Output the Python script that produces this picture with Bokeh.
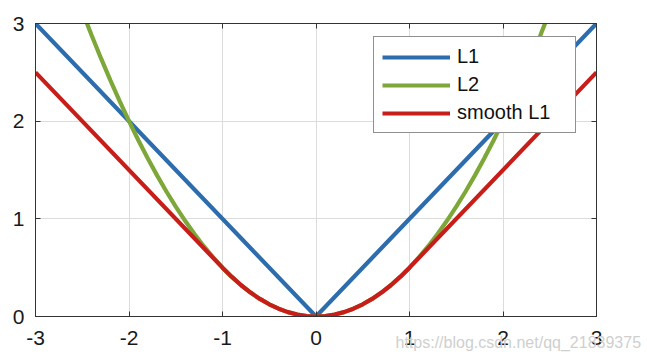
from bokeh.plotting import figure
from bokeh.models import Range1d, LinearAxis, FixedTicker, Legend, LegendItem, Label
from bokeh.embed import file_html
from bokeh.resources import INLINE

# Data
l1_x = [-3, 0, 3]
l1_y = [3, 0, 3]

l2_x = [-2.5, -2.4, -2.3, -2.2, -2.1, -2.0, -1.9, -1.8, -1.7, -1.6, -1.5, -1.4, -1.3,
        -1.2, -1.1, -1.0, -0.9, -0.8, -0.7, -0.6, -0.5, -0.4, -0.3, -0.2, -0.1, 0.0,
        0.1, 0.2, 0.3, 0.4, 0.5, 0.6, 0.7, 0.8, 0.9, 1.0, 1.1, 1.2, 1.3, 1.4, 1.5,
        1.6, 1.7, 1.8, 1.9, 2.0, 2.1, 2.2, 2.3, 2.4, 2.5]
l2_y = [3.125, 2.88, 2.645, 2.42, 2.205, 2.0, 1.805, 1.62, 1.445, 1.28, 1.125, 0.98, 0.845,
        0.72, 0.605, 0.5, 0.405, 0.32, 0.245, 0.18, 0.125, 0.08, 0.045, 0.02, 0.005, 0.0,
        0.005, 0.02, 0.045, 0.08, 0.125, 0.18, 0.245, 0.32, 0.405, 0.5, 0.605, 0.72, 0.845,
        0.98, 1.125, 1.28, 1.445, 1.62, 1.805, 2.0, 2.205, 2.42, 2.645, 2.88, 3.125]

sl1_x = [-3.0, -1.0, -0.9, -0.8, -0.7, -0.6, -0.5, -0.4, -0.3, -0.2, -0.1, 0.0,
         0.1, 0.2, 0.3, 0.4, 0.5, 0.6, 0.7, 0.8, 0.9, 1.0, 3.0]
sl1_y = [2.5, 0.5, 0.405, 0.32, 0.245, 0.18, 0.125, 0.08, 0.045, 0.02, 0.005, 0.0,
         0.005, 0.02, 0.045, 0.08, 0.125, 0.18, 0.245, 0.32, 0.405, 0.5, 2.5]

x_ticks = [-3, -2, -1, 0, 1, 2, 3]
y_ticks = [0, 1, 2, 3]
series_names = ["L1", "L2", "smooth L1"]
watermark = "https://blog.csdn.net/qq_21839375"

BLUE = "#2D6DAE"
GREEN = "#7DA738"
RED = "#C81E1A"
FONT = "Liberation Sans"
AXC = "#333333"

p = figure(frame_width=561, frame_height=293, output_backend="svg", toolbar_location=None,
           x_range=Range1d(-3, 3), y_range=Range1d(0, 3),
           min_border_left=35, min_border_top=23, min_border_right=50, min_border_bottom=42)
p.outline_line_color = AXC
p.outline_line_width = 1
p.background_fill_color = "white"

for ax in (p.xaxis[0], p.yaxis[0]):
    ax.major_label_text_font = FONT
    ax.major_label_text_font_size = "21px"
    ax.major_label_text_color = "#1a1a1a"
    ax.axis_line_color = AXC
    ax.major_tick_in = 5
    ax.major_tick_out = 0
    ax.minor_tick_line_color = None
    ax.major_tick_line_color = AXC

p.xaxis[0].ticker = FixedTicker(ticks=x_ticks)
p.yaxis[0].ticker = FixedTicker(ticks=y_ticks)
p.xaxis[0].major_label_overrides = {t: str(t) for t in x_ticks}
p.yaxis[0].major_label_overrides = {t: str(t) for t in y_ticks}
p.xaxis[0].major_label_standoff = 14
p.yaxis[0].major_label_standoff = 11

# box axes (top / right) with inward ticks, no labels
top = LinearAxis(ticker=FixedTicker(ticks=x_ticks), major_label_text_font_size="0px",
                 major_tick_in=5, major_tick_out=0, minor_tick_line_color=None,
                 major_label_standoff=0, axis_line_color=AXC, major_tick_line_color=AXC)
right = LinearAxis(ticker=FixedTicker(ticks=y_ticks), major_label_text_font_size="0px",
                   major_tick_in=5, major_tick_out=0, minor_tick_line_color=None,
                   major_label_standoff=0, axis_line_color=AXC, major_tick_line_color=AXC)
p.add_layout(top, "above")
p.add_layout(right, "right")

p.xgrid.ticker = FixedTicker(ticks=x_ticks)
p.ygrid.ticker = FixedTicker(ticks=y_ticks)
p.grid.grid_line_color = "#DCDCDC"
p.grid.grid_line_width = 1

r1 = p.line(l1_x, l1_y, line_color=BLUE, line_width=4.2)
r2 = p.line(l2_x, l2_y, line_color=GREEN, line_width=4.2)
r3 = p.line(sl1_x, sl1_y, line_color=RED, line_width=4.2)

legend = Legend(items=[LegendItem(label=series_names[0], renderers=[r1]),
                       LegendItem(label=series_names[1], renderers=[r2]),
                       LegendItem(label=series_names[2], renderers=[r3])],
                location=(338, 183), glyph_width=68, glyph_height=20, label_height=20,
                label_width=110, label_standoff=7, spacing=5, padding=8, margin=0,
                label_text_font=FONT, label_text_font_size="20px", label_text_color="#111111",
                border_line_color="#222222", border_line_width=1,
                background_fill_color="white", background_fill_alpha=1.0)
p.add_layout(legend, "center")

wm = Label(x=360, y=14, x_units="screen", y_units="screen", text=watermark,
           text_font=FONT, text_font_size="16px", text_color="#CFCFCF", level="overlay")
p.add_layout(wm, "below")

open("out.html", "w").write(file_html(p, INLINE))
